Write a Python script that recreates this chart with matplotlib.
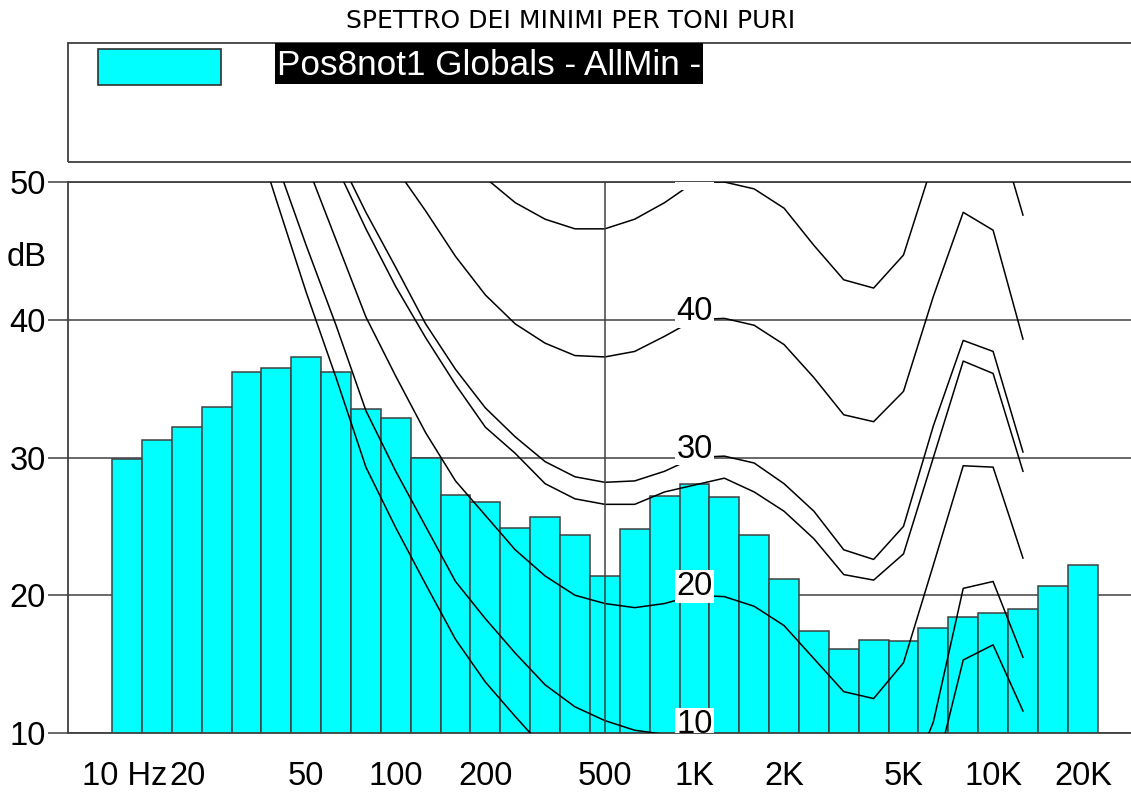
import numpy as np
import matplotlib
matplotlib.use("Agg")
from matplotlib import pyplot as plt
from matplotlib.patches import Rectangle
from matplotlib.ticker import NullFormatter
import matplotlib.transforms as mtransforms

plt.rcParams['font.family'] = ['Liberation Sans', 'DejaVu Sans']

W, H = 1131, 794
GRIGIO = '#404040'

titolo = "SPETTRO DEI MINIMI PER TONI PURI"
serie_nome = "Pos8not1 Globals - AllMin -"

# livelli minimi per banda di terzo d'ottava
band_freq = [12.5, 16, 20, 25, 31.5, 40, 50, 63, 80, 100, 125, 160, 200, 250, 315, 400,
             500, 630, 800, 1000, 1250, 1600, 2000, 2500, 3150, 4000, 5000, 6300, 8000,
             10000, 12500, 16000, 20000]
band_level = [29.9, 31.3, 32.2, 33.7, 36.2, 36.5, 37.3, 36.2, 33.5, 32.9, 30.0, 27.3, 26.8,
              24.9, 25.7, 24.4, 21.4, 24.8, 27.2, 28.1, 27.1, 24.4, 21.2, 17.4, 16.1, 16.75,
              16.65, 17.6, 18.4, 18.7, 19.0, 20.7, 22.2]

# curve isofoniche (valori sotto i 10 dB non si vedono)
curve_freq = [31.5, 40, 50, 63, 80, 100, 125, 160, 200, 250, 315, 400, 500, 630, 800, 1000,
              1250, 1600, 2000, 2500, 3150, 4000, 5000, 6300, 8000, 10000, 12500]
curva_soglia = [55.5, 48.7, 42.0, 35.8, 29.3, 24.9, 20.8, 16.8, 13.7, 11.2, 8.8, 7.0, 6.0,
                5.4, 5.0, 5.0, 5.0, 4.5, 3.0, 0.5, -2.0, -2.5, 0.0, 6.5, 15.3, 16.4, 11.6]
curva_10 = [58.0, 51.5, 45.4, 39.6, 33.4, 29.0, 25.0, 21.0, 18.3, 15.8, 13.5, 11.9, 10.9,
            10.2, 9.9, 10.0, 9.9, 9.2, 7.8, 5.4, 3.0, 2.5, 5.4, 10.8, 20.5, 21.0, 15.5]
curva_20 = [63.0, 57.0, 51.4, 45.8, 40.2, 35.9, 31.8, 28.3, 25.8, 23.3, 21.4, 20.0, 19.4,
            19.1, 19.4, 20.0, 19.9, 19.2, 17.8, 15.4, 13.0, 12.5, 15.1, 22.2, 29.4, 29.3, 22.7]
curva_30 = [68.0, 62.0, 56.5, 52.2, 47.8, 43.8, 39.7, 36.4, 33.6, 31.5, 29.7, 28.6, 28.2,
            28.3, 29.0, 30.0, 30.1, 29.6, 28.1, 26.1, 23.3, 22.6, 25.0, 32.3, 38.5, 37.7, 30.4]
curva_28 = [67.0, 61.0, 55.5, 51.2, 46.6, 42.4, 38.7, 35.3, 32.2, 30.3, 28.1, 27.0, 26.6,
            26.6, 27.5, 28.0, 28.5, 27.5, 26.1, 24.1, 21.5, 21.1, 23.0, 30.0, 37.0, 36.1, 29.0]
curva_40 = [75.0, 69.0, 63.0, 58.5, 54.5, 51.0, 47.9, 44.6, 41.8, 39.7, 38.3, 37.4, 37.3,
            37.7, 38.8, 40.0, 40.1, 39.6, 38.2, 35.8, 33.1, 32.6, 34.8, 41.7, 47.8, 46.5, 38.6]
curva_50 = [85.0, 78.0, 72.0, 67.0, 63.0, 59.5, 56.0, 53.0, 50.3, 48.5, 47.3, 46.6, 46.6,
            47.3, 48.5, 50.0, 50.0, 49.5, 48.1, 45.4, 42.9, 42.3, 44.7, 51.5, 57.5, 55.0, 47.6]
curve = [curva_soglia, curva_10, curva_20, curva_30, curva_28, curva_40, curva_50]
curve_label = [None, "10", "20", "30", None, "40", "50"]

x_tick_freq = [10, 20, 50, 100, 200, 500, 1000, 2000, 5000, 10000, 20000]
x_tick_text = ["10 Hz", "20", "50", "100", "200", "500", "1K", "2K", "5K", "10K", "20K"]
x_grid_freq = [20, 200, 2000, 20000]
y_ticks = [10, 20, 30, 40, 50]


def terzi_esatti(f):
    # frequenze nominali -> centri esatti in base 10
    return 10 ** (np.round(10 * np.log10(np.asarray(f, dtype=float))) / 10)


fig = plt.figure(figsize=(W / 100, H / 100), dpi=100)
ax = fig.add_axes([68 / W, 1 - 733 / H, (W - 68) / W, 551 / H])
ax.set_xscale('log')
ax.set_xlim(7.99, 28955)
ax.set_ylim(10, 50)

fc = terzi_esatti(band_freq)
lo = fc / 10 ** 0.05
hi = fc * 10 ** 0.05
ax.bar(lo, band_level, width=hi - lo, align='edge', color='#00ffff',
       edgecolor=GRIGIO, linewidth=1.1, zorder=2)

ax.axvline(500, color=GRIGIO, lw=1.1, zorder=3.5)

cf = terzi_esatti(curve_freq)
for vals, lab in zip(curve, curve_label):
    ax.plot(cf, vals, color='black', lw=1.1, zorder=3)
    if lab:
        v1k = vals[curve_freq.index(1000)]
        ax.text(1000, v1k, lab, ha='center', va='baseline', fontsize=23.5,
                bbox=dict(boxstyle='square,pad=0.03', fc='white', ec='none'),
                zorder=5, clip_on=True)

ax.set_axisbelow(True)
ax.set_yticks(y_ticks)
ax.yaxis.grid(True, color=GRIGIO, lw=1.1)
ax.set_xticks(x_tick_freq)
ax.set_xticklabels(x_tick_text)
ax.set_xticks(x_grid_freq, minor=True)
ax.xaxis.set_minor_formatter(NullFormatter())
ax.xaxis.grid(True, which='minor', color=GRIGIO, lw=1.1)
ax.xaxis.grid(False, which='major')
ax.tick_params(axis='x', which='major', length=0, pad=20.2, labelsize=23.5)
ax.tick_params(axis='x', which='minor', length=14.4, width=1.1, color=GRIGIO)
ax.tick_params(axis='y', which='both', length=14.4, width=1.1, color=GRIGIO,
               pad=1.4, labelsize=23.5)
ax.yaxis.set_minor_locator(matplotlib.ticker.NullLocator())

lab0 = ax.get_xticklabels()[0]
lab0.set_horizontalalignment('left')
lab0.set_transform(lab0.get_transform() +
                   mtransforms.ScaledTranslation(-15 / 100, 0, fig.dpi_scale_trans))

for s in ['left', 'top', 'bottom']:
    ax.spines[s].set_color(GRIGIO)
    ax.spines[s].set_linewidth(1.3)
ax.spines['right'].set_visible(False)

fig.text(27 / W, 1 - 266 / H, "dB", ha='center', va='baseline', fontsize=23.5)

# titolo e legenda
fig.text(570.5 / W, 1 - 28.3 / H, titolo, ha='center', va='baseline',
         fontsize=18, family='DejaVu Sans')
fig.patches.append(Rectangle((68 / W, 1 - 162.3 / H), 1.0, (162.3 - 42.7) / H,
                             transform=fig.transFigure, fill=False, ec=GRIGIO, lw=1.3))
fig.patches.append(Rectangle((98.3 / W, 1 - 84.7 / H), (221 - 98.3) / W, 36 / H,
                             transform=fig.transFigure, fc='#00ffff', ec='#303030', lw=1.2))
fig.patches.append(Rectangle((275 / W, 1 - 84 / H), (703 - 275) / W, 41 / H,
                             transform=fig.transFigure, fc='black', ec='none'))
fig.text(277 / W, 1 - 75.3 / H, serie_nome, color='white', ha='left', va='baseline',
         fontsize=25.3)

fig.savefig('out.png', dpi=100)
